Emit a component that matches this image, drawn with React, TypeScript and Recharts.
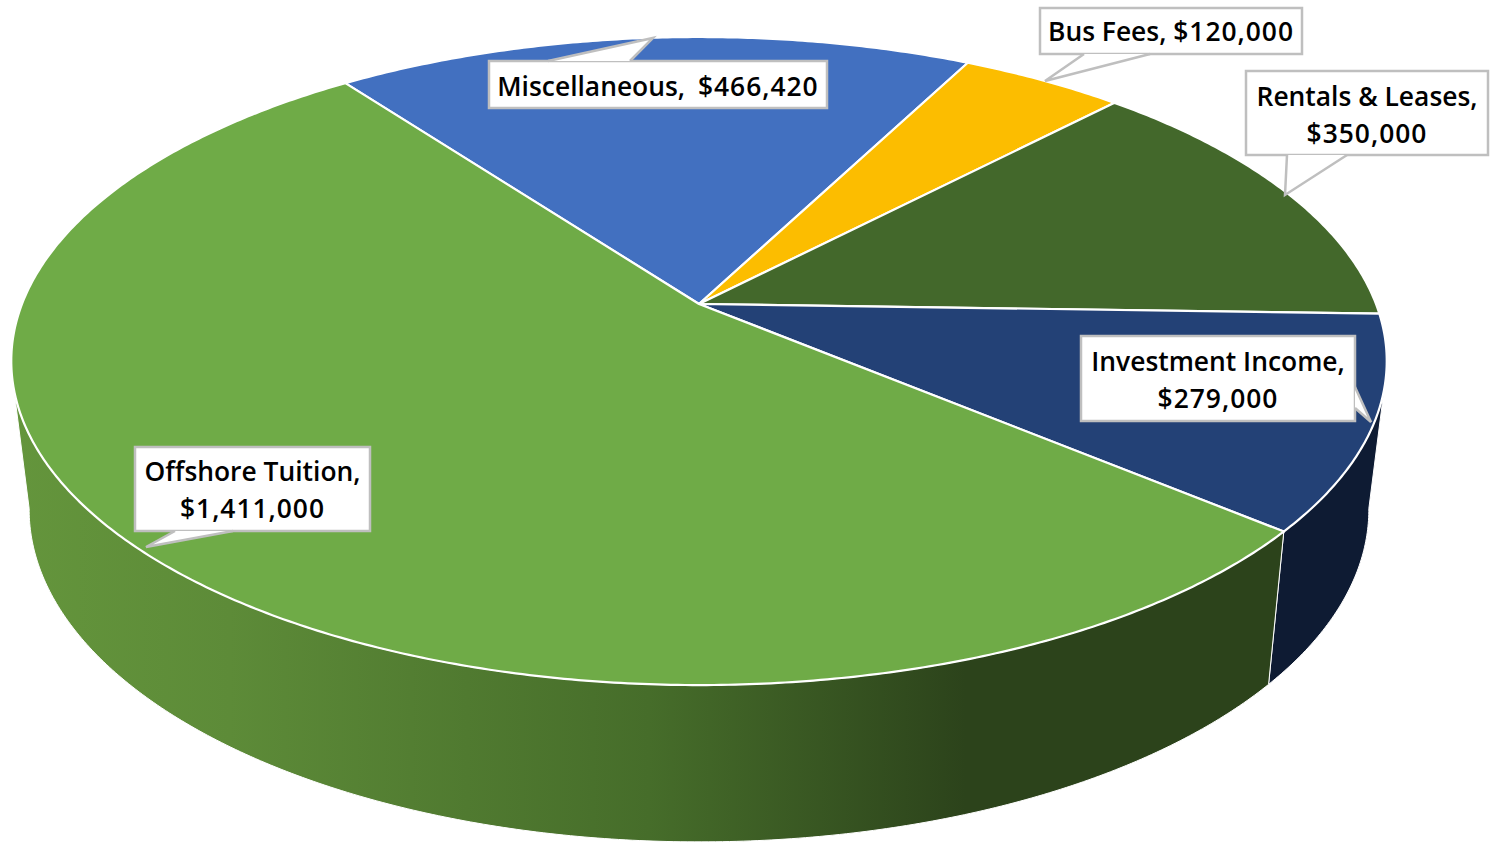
import { Pie, PieChart } from "recharts";

const CATEGORIES = [
  "Miscellaneous",
  "Bus Fees",
  "Rentals & Leases",
  "Investment Income",
  "Offshore Tuition",
];
const AMOUNTS = [466420, 120000, 350000, 279000, 1411000];

const TOP_COLORS: Record<string, string> = {
  Miscellaneous: "#4270C0",
  "Bus Fees": "#FCBD00",
  "Rentals & Leases": "#43682B",
  "Investment Income": "#234176",
  "Offshore Tuition": "#6FAB47",
};
const WALL_COLORS: Record<string, string> = {
  "Investment Income": "#0E1B33",
  "Offshore Tuition": "url(#tuitionWall)",
};

// label box, text baselines and pointer triangle for each callout
const CALLOUTS: Record<string, any> = {
  Miscellaneous: { box: [489, 61, 338, 47], lines: 1, tail: [[548, 61], [653, 38], [630, 61]], baseline: 96, gap: 6 },
  "Bus Fees": { box: [1040, 8, 262, 46], lines: 1, tail: [[1084, 54], [1045, 81], [1150, 54]], baseline: 41, gap: 0 },
  "Rentals & Leases": { box: [1246, 71, 242, 84], lines: 2, tail: [[1287, 155], [1285, 195], [1347, 155]], baseline: 106, gap: 0 },
  "Investment Income": { box: [1081, 336, 274, 85], lines: 2, tail: [[1355, 387], [1371, 422], [1355, 408]], baseline: 371, gap: 0 },
  "Offshore Tuition": { box: [135, 447, 235, 84], lines: 2, tail: [[175, 531], [146, 547], [233, 531]], baseline: 481, gap: 0 },
};

const pieData = CATEGORIES.map((name, i) => ({ name, value: AMOUNTS[i] }));

const WIDTH = 1490;
const HEIGHT = 842;
const APEX_X = 699;
const APEX_Y = 304;
const RADIUS = 677;

// perspective of the tilted disc
const TILT = 0.4638;
const KEYSTONE = 0.176;
// lower disc relative to the upper one
const BASE_SCALE_X = 0.974;
const BASE_SCALE_Y = 1.026;
const BASE_SHIFT_Y = 139;

const RAD = Math.PI / 180;

function rim(cx: number, cy: number, r: number, deg: number) {
  const u = Math.cos(deg * RAD);
  const v = Math.sin(deg * RAD);
  const w = 1 + KEYSTONE * v;
  return [cx + (r * u) / w, cy - (r * TILT * v) / w];
}

function base(cx: number, cy: number, r: number, deg: number) {
  const [x, y] = rim(cx, cy, r, deg);
  return [cx + (x - cx) * BASE_SCALE_X, y * BASE_SCALE_Y + BASE_SHIFT_Y];
}

function sweep(from: number, to: number, at: (deg: number) => number[]) {
  const steps = Math.max(2, Math.ceil(Math.abs(to - from) * 2));
  const pts: string[] = [];
  for (let i = 0; i <= steps; i++) {
    const [x, y] = at(from + ((to - from) * i) / steps);
    pts.push(`${x.toFixed(2)} ${y.toFixed(2)}`);
  }
  return pts;
}

function Slice(props: any) {
  const { cx, cy, outerRadius, startAngle, endAngle } = props;
  const name = props.payload?.name ?? props.name;
  const atRim = (d: number) => rim(cx, cy, outerRadius, d);
  const atBase = (d: number) => base(cx, cy, outerRadius, d);

  const top = `M${cx} ${cy}L${sweep(startAngle, endAngle, atRim).join("L")}Z`;

  // the side wall only shows along the front of the disc
  const wallFrom = Math.min(startAngle, -15);
  const wallTo = Math.max(endAngle, -165);
  const baseFrom = Math.min(startAngle, -10);
  const baseTo = Math.max(endAngle, -170);
  const hasWall = wallFrom > wallTo;

  return (
    <g>
      {hasWall && (
        <path
          d={`M${sweep(wallFrom, wallTo, atRim).join("L")}L${sweep(baseTo, baseFrom, atBase).join("L")}Z`}
          fill={WALL_COLORS[name]}
          stroke="#fff"
          strokeWidth={1}
        />
      )}
      <path d={top} fill={TOP_COLORS[name]} stroke="#fff" strokeWidth={2.2} strokeLinejoin="round" />
    </g>
  );
}

function Callout(props: any) {
  const name = props.payload?.name ?? props.name;
  const value = props.payload?.value ?? props.value;
  const c = CALLOUTS[name];
  const [x, y, w, h] = c.box;
  const money = `$${value.toLocaleString("en-US")}`;
  const t = c.tail;
  const head = `${name},`;
  const textProps = {
    x: x + w / 2,
    textAnchor: "middle" as const,
    fontFamily: "'Open Sans', sans-serif",
    fontWeight: 600,
    fontSize: 26.4,
    fill: "#000",
  };
  return (
    <g>
      <path d={`M${x} ${y}H${x + w}V${y + h}H${x}Z`} fill="#fff" stroke="#BFBFBF" strokeWidth={2.5} />
      <path d={`M${t[0].join(" ")}L${t[1].join(" ")}L${t[2].join(" ")}Z`} fill="#fff" stroke="none" />
      <path d={`M${t[0].join(" ")}L${t[1].join(" ")}L${t[2].join(" ")}`} fill="none" stroke="#BFBFBF" strokeWidth={2.5} />
      {c.lines === 1 ? (
        <text {...textProps} y={c.baseline} wordSpacing={c.gap}>
          {head} <tspan letterSpacing={1}>{money}</tspan>
        </text>
      ) : (
        <>
          <text {...textProps} y={c.baseline}>{head}</text>
          <text {...textProps} y={c.baseline + 37} letterSpacing={1}>{money}</text>
        </>
      )}
    </g>
  );
}

export default function App() {
  return (
    <div style={{ position: "absolute", left: 0, top: 0, width: WIDTH, height: HEIGHT }}>
      <PieChart width={WIDTH} height={HEIGHT} margin={{ top: 0, right: 0, bottom: 0, left: 0 }}>
        <defs>
          <linearGradient id="tuitionWall" gradientUnits="userSpaceOnUse" x1={14} y1={0} x2={1283} y2={0}>
            <stop offset="0" stopColor="#64953C" />
            <stop offset="0.17" stopColor="#5D8B38" />
            <stop offset="0.5" stopColor="#466D2A" />
            <stop offset="0.75" stopColor="#2C431B" />
            <stop offset="1" stopColor="#2C431B" />
          </linearGradient>
        </defs>
        <Pie
          data={pieData}
          dataKey="value"
          nameKey="name"
          cx={APEX_X}
          cy={APEX_Y}
          outerRadius={RADIUS}
          startAngle={126.6}
          endAngle={-233.4}
          stroke="#fff"
          shape={Slice}
          label={Callout}
          labelLine={false}
          isAnimationActive={false}
        />
      </PieChart>
    </div>
  );
}
